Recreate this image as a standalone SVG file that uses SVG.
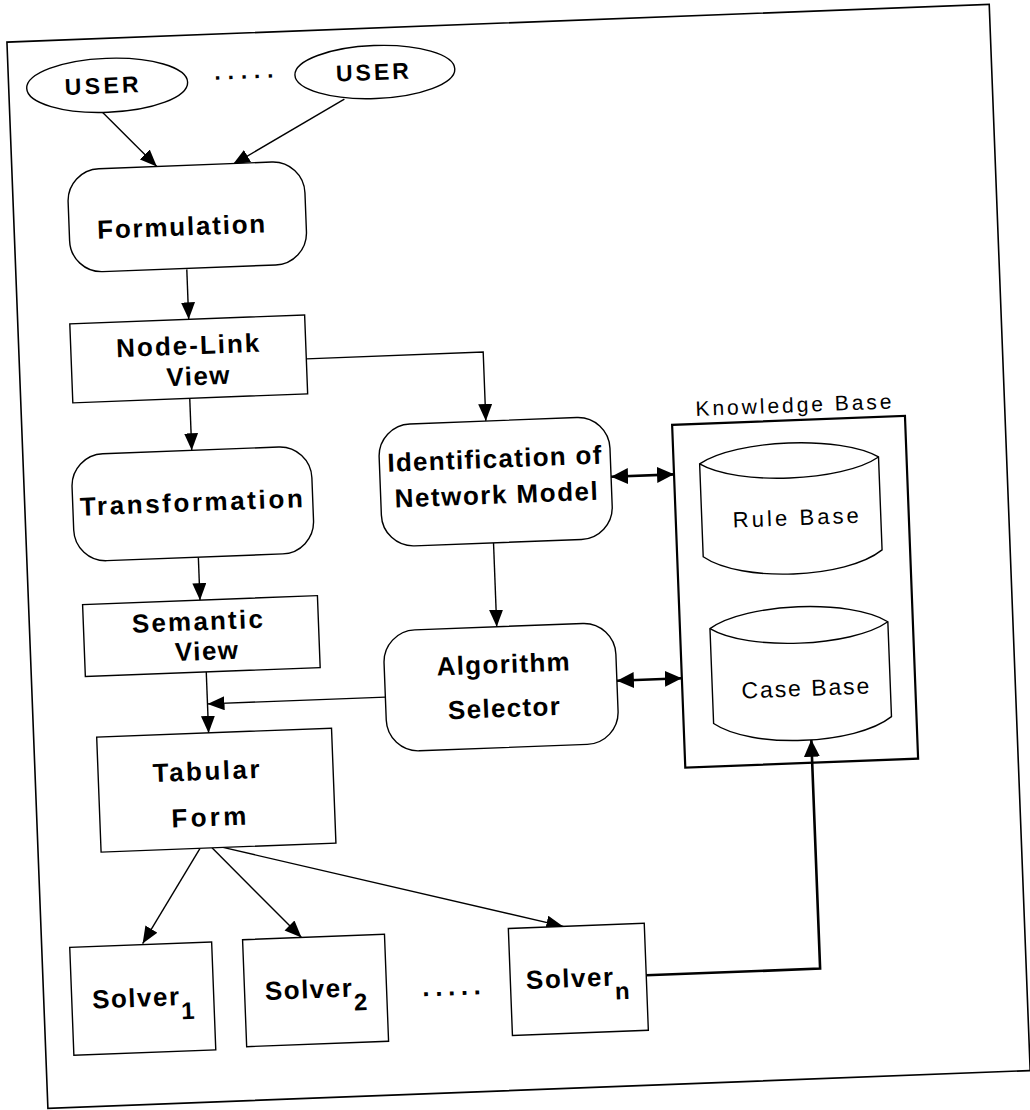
<svg xmlns="http://www.w3.org/2000/svg" width="1030" height="1110" viewBox="0 0 1030 1110">
<style>
.n{fill:#fff;stroke:#000;stroke-width:1.4}
.kb{fill:none;stroke:#000;stroke-width:2.2}
.b{fill:none;stroke:#000;stroke-width:1.6}
.t{font-family:"Liberation Sans",Arial,sans-serif;font-weight:bold;font-size:26px;fill:#000;text-anchor:middle}
.r{font-family:"Liberation Sans",Arial,sans-serif;font-weight:normal;fill:#000;text-anchor:middle}
.c{fill:none;stroke:#000;stroke-width:1.4}
.ct{fill:none;stroke:#000;stroke-width:2.6}
.sub{font-size:24px}
</style>
<defs>
<marker id="ah" markerUnits="userSpaceOnUse" markerWidth="18" markerHeight="15" refX="17" refY="7" orient="auto"><path d="M0,0 L17,7 L0,14 Z" fill="#000"/></marker>
<marker id="ahb" markerUnits="userSpaceOnUse" markerWidth="18" markerHeight="17" refX="17" refY="8" orient="auto-start-reverse"><path d="M0,0 L17,8 L0,16 Z" fill="#000"/></marker>
</defs>
<rect width="1030" height="1110" fill="#fff"/>
<g transform="rotate(-2.2 515 555)">
<rect class="b" x="27" y="23" width="983" height="1067"/>
<g id="connectors">
<line class="c" x1="120" y1="97" x2="172" y2="153" marker-end="url(#ah)"/>
<line class="c" x1="362" y1="93" x2="248" y2="154" marker-end="url(#ah)"/>
<line class="c" x1="198" y1="257" x2="198" y2="307" marker-end="url(#ah)"/>
<line class="c" x1="196" y1="386" x2="196" y2="438" marker-end="url(#ah)"/>
<path class="c" d="M314,351 H491 V420" marker-end="url(#ah)"/>
<line class="c" x1="198.5" y1="545" x2="198.5" y2="588" marker-end="url(#ah)"/>
<line class="c" x1="202" y1="660" x2="202" y2="721" marker-end="url(#ah)"/>
<line class="c" x1="380" y1="692" x2="202" y2="692" marker-end="url(#ah)"/>
<line class="c" x1="494" y1="542" x2="494" y2="626" marker-end="url(#ah)"/>
<line class="ct" x1="614" y1="480.5" x2="677" y2="480.5" marker-start="url(#ahb)" marker-end="url(#ahb)"/>
<line class="ct" x1="612" y1="684.5" x2="677" y2="684.5" marker-start="url(#ahb)" marker-end="url(#ahb)"/>
<line class="c" x1="189" y1="836" x2="128" y2="929" marker-end="url(#ah)"/>
<line class="c" x1="201" y1="836" x2="287" y2="929" marker-end="url(#ah)"/>
<line class="c" x1="212" y1="836" x2="549" y2="928" marker-end="url(#ah)"/>
<path class="ct" d="M630,980 H804 V751" marker-end="url(#ahb)"/>
</g>
<g id="user1">
<ellipse class="n" cx="125.5" cy="70" rx="80.5" ry="27"/>
<text class="t" x="120" y="78" style="font-size:23px" textLength="74" lengthAdjust="spacing">USER</text>
</g>
<text class="t" x="233" y="68.5" style="font-size:23px;text-anchor:start;letter-spacing:6.8px">.....</text>
<g id="user2">
<ellipse class="n" cx="393.5" cy="67" rx="80" ry="26.5"/>
<text class="t" x="391" y="75" style="font-size:23px" textLength="73" lengthAdjust="spacing">USER</text>
</g>
<g id="formulation">
<rect class="n" x="82" y="153" width="237" height="103" rx="32"/>
<text class="t" x="194" y="223" textLength="168" lengthAdjust="spacing">Formulation</text>
</g>
<g id="nodelink">
<rect class="n" x="79" y="307" width="235" height="79"/>
<text class="t" x="196" y="342" textLength="143" lengthAdjust="spacing">Node-Link</text>
<text class="t" x="205" y="373" textLength="63" lengthAdjust="spacing">View</text>
</g>
<g id="transformation">
<rect class="n" x="75" y="438" width="240" height="107" rx="32"/>
<text class="t" x="193.5" y="499" textLength="223" lengthAdjust="spacing">Transformation</text>
</g>
<g id="semantic">
<rect class="n" x="81" y="588" width="235" height="72"/>
<text class="t" x="195" y="618" textLength="131" lengthAdjust="spacing">Semantic</text>
<text class="t" x="203" y="648" textLength="63" lengthAdjust="spacing">View</text>
</g>
<g id="tabular">
<rect class="n" x="90" y="721" width="235" height="115"/>
<text class="t" x="198" y="768" textLength="107" lengthAdjust="spacing">Tabular</text>
<text class="t" x="199" y="814" textLength="75" lengthAdjust="spacing">Form</text>
</g>
<g id="identification">
<rect class="n" x="383" y="420" width="231" height="122" rx="32"/>
<text class="t" x="498" y="467" textLength="214" lengthAdjust="spacing">Identification of</text>
<text class="t" x="498.5" y="503" textLength="203" lengthAdjust="spacing">Network Model</text>
</g>
<g id="algorithm">
<rect class="n" x="380" y="626" width="232" height="121" rx="32"/>
<text class="t" x="499" y="672.5" textLength="133" lengthAdjust="spacing">Algorithm</text>
<text class="t" x="498" y="716.5" textLength="112" lengthAdjust="spacing">Selector</text>
</g>
<g id="knowledgebase">
<rect class="kb" x="677" y="431" width="233" height="343"/>
<text class="r" x="799" y="423" style="font-size:21px" textLength="196" lengthAdjust="spacing">Knowledge Base</text>
</g>
<g id="rulebase">
<path class="n" d="M703,471 C740,447.8 845,447.8 882,471 L882,564 C845,591.5 740,591.5 703,564 Z"/>
<path class="c" d="M703,471 C740,494.5 845,494.5 882,471"/>
<text class="r" x="797" y="536" style="font-size:22px" textLength="126" lengthAdjust="spacing">Rule Base</text>
</g>
<g id="casebase">
<path class="n" d="M707,636 C744,611.5 848,611.5 885,636 L885,731 C848,758 744,758 707,731 Z"/>
<path class="c" d="M707,636 C744,660 848,660 885,636"/>
<text class="r" x="800" y="707" style="font-size:23px" textLength="128" lengthAdjust="spacing">Case Base</text>
</g>
<g id="solver1">
<rect class="n" x="55" y="930" width="142" height="108"/>
<text class="t" x="127" y="992" style="letter-spacing:1.5px">Solver<tspan class="sub" dy="14">1</tspan></text>
</g>
<g id="solver2">
<rect class="n" x="228" y="929" width="142" height="107"/>
<text class="t" x="300" y="990" style="letter-spacing:1.5px">Solver<tspan class="sub" dy="14">2</tspan></text>
</g>
<text class="t" x="405.7" y="992.5" style="text-anchor:start;letter-spacing:5.6px">.....</text>
<g id="solvern">
<rect class="n" x="494" y="928" width="136" height="107"/>
<text class="t" x="562" y="989" style="letter-spacing:1.5px">Solver<tspan class="sub" dy="14">n</tspan></text>
</g>
</g>
</svg>
